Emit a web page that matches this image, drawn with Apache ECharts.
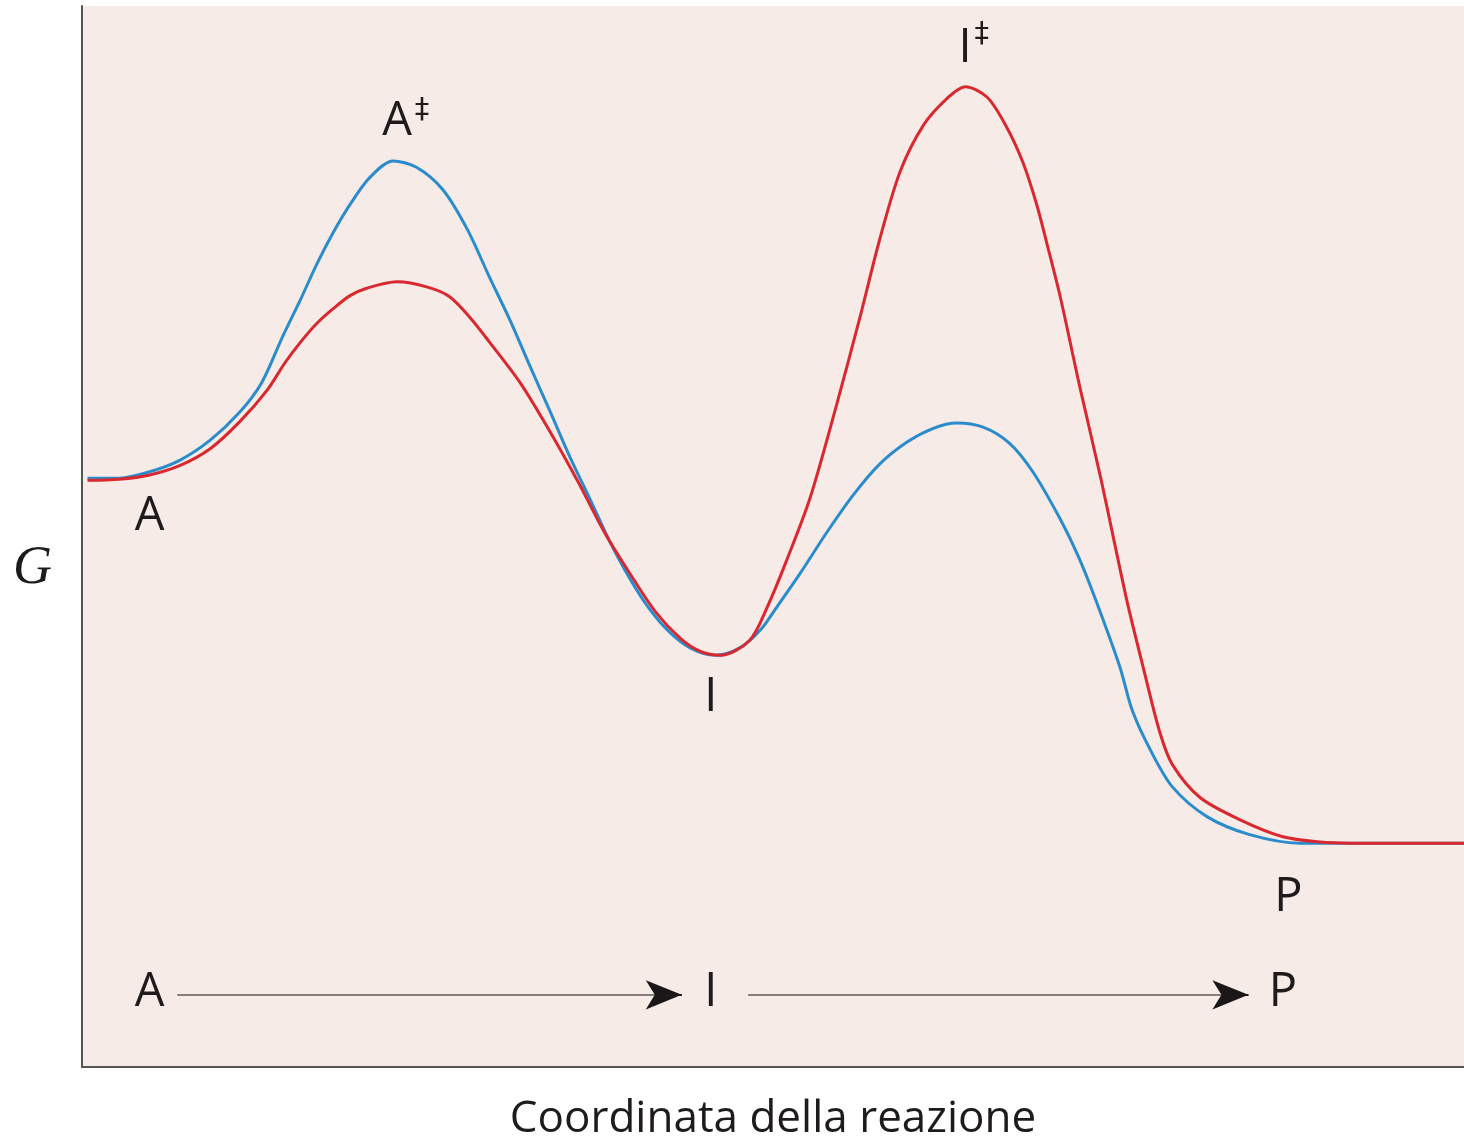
<!DOCTYPE html>
<html>
<head>
<meta charset="utf-8">
<script src="https://cdn.jsdelivr.net/npm/echarts@6/dist/echarts.min.js"></script>
<style>html,body{margin:0;padding:0;background:#fff;}#c{width:1464px;height:1141px;}</style>
</head>
<body>
<div id="c"></div>
<script>
// Reaction coordinate (0-100) vs free energy G (0-100)
const blueCurve = [[0.4,55.5],[2.7,55.5],[4.9,56.1],[7.1,57.2],[9.3,59.1],[11.4,61.7],[13.0,64.5],[14.5,68.8],[15.8,72.3],[17.0,75.7],[18.2,78.7],[19.4,81.3],[20.8,83.8],[22.5,85.4],[24.2,84.8],[26.1,82.7],[27.9,78.9],[29.5,74.4],[31.0,70.3],[32.4,66.1],[33.9,61.7],[35.3,57.5],[36.8,53.4],[38.2,49.5],[39.7,45.9],[41.1,43.1],[42.5,41.0],[44.0,39.5],[45.8,38.8],[47.6,39.5],[49.1,41.2],[50.3,43.4],[52.0,46.6],[53.9,50.4],[55.8,53.9],[57.7,56.8],[59.7,58.9],[61.6,60.2],[63.3,60.7],[65.2,60.3],[67.1,58.8],[68.8,56.1],[70.8,51.6],[72.1,48.1],[73.3,44.2],[75.1,37.7],[76.0,33.6],[77.3,29.9],[78.9,26.4],[81.4,23.6],[84.5,21.9],[88.1,21.1],[90.5,21.1],[100,21.1]];
const redCurve = [[0.4,55.3],[2.7,55.4],[4.9,55.8],[7.1,56.7],[9.3,58.3],[11.4,60.8],[13.4,63.8],[14.7,66.4],[15.8,68.3],[17.0,70.1],[18.2,71.5],[19.4,72.7],[20.6,73.4],[22.8,74.0],[25.0,73.5],[26.6,72.6],[28.1,70.6],[29.5,68.3],[31.7,64.5],[33.9,59.8],[36.0,54.9],[37.8,50.4],[39.7,46.4],[41.5,42.9],[43.3,40.4],[44.7,39.2],[46.2,38.8],[48.3,40.2],[49.6,43.4],[51.0,47.8],[52.7,53.7],[54.6,62.4],[56.3,70.7],[57.7,77.9],[59.2,84.4],[60.9,88.8],[62.6,91.3],[63.9,92.4],[65.5,91.4],[66.9,88.6],[68.1,85.2],[69.1,81.2],[69.8,77.7],[70.8,72.5],[72.2,64.1],[73.7,55.6],[75.6,44.0],[76.8,37.6],[78.0,31.5],[78.9,28.5],[80.9,25.4],[83.8,23.3],[86.9,21.7],[89.6,21.2],[91.8,21.1],[100,21.1]];
// state labels [x, y, text]
const stateLabels = [[4.9,51.9,'A'],[45.5,34.8,'I'],[87.3,16.0,'P'],[22.8,89.1,'A'],[63.9,96.0,'I']];
const daggerLabels = [[24.6,90.2,'‡'],[65.1,97.3,'‡']];
const pathLabels = [[4.9,7.0,'A'],[45.5,7.0,'I'],[86.9,7.0,'P']];
const pathArrows = [[[6.9,6.8],[43.4,6.8]],[[48.2,6.8],[84.4,6.8]]];
const xTitle = 'Coordinata della reazione';
const yTitle = 'G';

const chart = echarts.init(document.getElementById('c'), null, {renderer:'canvas'});
const font = '"Open Sans", "Noto Sans", sans-serif';
const textColor = '#1f1b1c';
chart.setOption({
  animation: false,
  grid: {left: 82, right: 0, top: 6, bottom: 74, show: true, backgroundColor: '#f6ebe6', borderWidth: 0, containLabel: false, outerBoundsMode: 'none'},
  xAxis: {type: 'value', min: 0, max: 100, axisLine: {show: true, lineStyle: {color: '#555', width: 2}}, axisTick: {show: false}, axisLabel: {show: false}, splitLine: {show: false},
    name: xTitle, nameLocation: 'middle', nameGap: 30, nameTextStyle: {fontFamily: font, fontSize: 44, color: textColor}},
  yAxis: {type: 'value', min: 0, max: 100, axisLine: {show: true, lineStyle: {color: '#555', width: 2}}, axisTick: {show: false}, axisLabel: {show: false}, splitLine: {show: false},
    name: yTitle, nameLocation: 'middle', nameRotate: 0, nameGap: 30, nameTextStyle: {fontFamily: '"Liberation Serif", serif', fontStyle: 'italic', fontSize: 54, color: textColor, verticalAlign: 'top', lineHeight: 64}},
  series: [
    {type: 'line', data: blueCurve, smooth: 0.3, symbol: 'none', lineStyle: {color: '#2a8ccc', width: 3}, z: 3},
    {type: 'line', data: redCurve, smooth: 0.3, symbol: 'none', lineStyle: {color: '#d9282f', width: 3}, z: 4},
    {type: 'scatter', data: stateLabels.concat(pathLabels), symbolSize: 0, z: 5, itemStyle: {opacity: 1},
      label: {show: true, position: 'inside', formatter: p => p.value[2], fontFamily: font, fontSize: 47, color: textColor}},
    {type: 'scatter', data: daggerLabels, symbolSize: 0, z: 5, itemStyle: {opacity: 1},
      label: {show: true, position: 'inside', formatter: p => p.value[2], fontFamily: '"DejaVu Sans", sans-serif', fontSize: 29, color: textColor}},
    {type: 'line', data: [], symbol: 'none', z: 5,
      markLine: {silent: true, symbol: ['none', 'none'], label: {show: false}, lineStyle: {color: '#857e7b', width: 2, type: 'solid'},
        data: pathArrows.map(a => [{coord: a[0]}, {coord: a[1]}])}},
    {type: 'line', data: [], symbol: 'none', z: 6,
      markLine: {silent: true, symbol: ['none', 'arrow'], symbolSize: [22, 36], label: {show: false}, lineStyle: {color: '#1a1718', width: 2, type: 'solid'},
        data: pathArrows.map(a => [{coord: [a[1][0] - 0.5, a[1][1]]}, {coord: a[1]}])}}
  ]
});
</script>
</body>
</html>
